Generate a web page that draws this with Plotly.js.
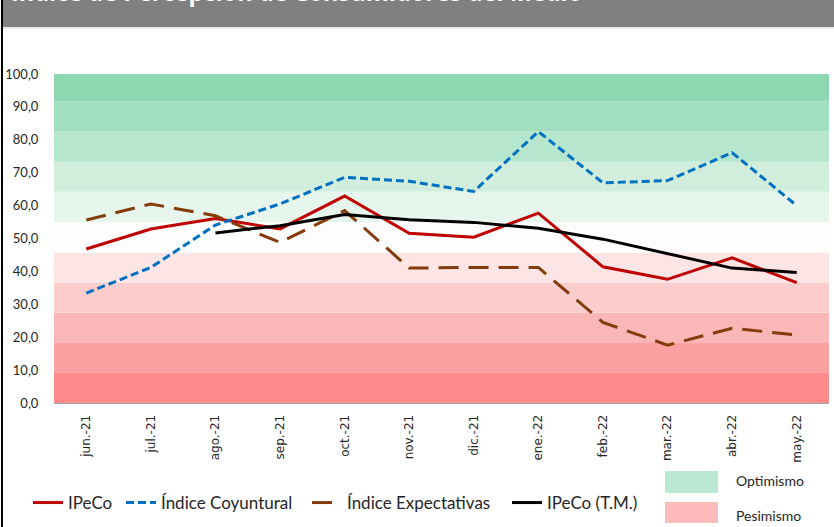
<!DOCTYPE html>
<html>
<head>
<meta charset="utf-8">
<script src="https://cdn.plot.ly/plotly-3.0.1.min.js"></script>
<style>
html,body{margin:0;padding:0;background:#fff;}
#chart{width:834px;height:527px;}
</style>
</head>
<body>
<div id="chart"></div>
<script>
// ---- data ----
var months = ["jun.-21","jul.-21","ago.-21","sep.-21","oct.-21","nov.-21","dic.-21","ene.-22","feb.-22","mar.-22","abr.-22","may.-22"];
var ipeco = [46.8, 52.9, 56.1, 52.9, 62.9, 51.6, 50.4, 57.7, 41.4, 37.6, 44.1, 36.6];
var coyuntural = [33.4, 41.2, 54.1, 60.5, 68.6, 67.4, 64.3, 82.5, 66.9, 67.6, 76.1, 60.0];
var expectativas = [55.6, 60.5, 56.9, 48.8, 58.5, 41.0, 41.2, 41.2, 24.5, 17.6, 22.7, 20.7];
var ipecoTM = [null, null, 51.7, 53.9, 57.3, 55.7, 54.9, 53.1, 49.8, 45.5, 41.0, 39.7];
var seriesNames = ["IPeCo", "Índice Coyuntural", "Índice Expectativas", "IPeCo (T.M.)"];
var yTicks = [0,10,20,30,40,50,60,70,80,90,100];
var bandEdges = [0, 9.1, 18.2, 27.4, 36.5, 45.7, 55.0, 64.2, 73.3, 82.5, 91.7, 100];
var bandColors = ["#FD8B8B","#FCA1A1","#FBB7B7","#FCCDCD","#FDE5E5","#FDFDFD","#E6F6ED","#D1EEDD","#B7E6CE","#A1DFC0","#8DD8B1"];
var titleText = "Índice de Percepción de Consumidores del Medio";
var keyLabels = ["Optimismo", "Pesimismo"];

// ---- geometry helpers (pixel -> paper) ----
var W = 834, H = 527, mL = 54, mR = 5, mT = 74, mB = 124;
var pw = W - mL - mR, ph = H - mT - mB;
function px(x){ return (x - mL) / pw; }
function py(y){ return (H - mB - y) / ph; }

var shapes = [];
for (var i = 0; i < bandColors.length; i++) {
  shapes.push({type:"rect", xref:"paper", yref:"y", x0:0, x1:1, y0:bandEdges[i], y1:bandEdges[i+1],
    fillcolor:bandColors[i], line:{width:0}, layer:"below"});
}
// title bar
shapes.push({type:"rect", xref:"paper", yref:"paper", x0:px(3), x1:px(836), y0:py(27), y1:py(-2),
  fillcolor:"#808080", line:{width:0}, layer:"below"});
shapes.push({type:"line", xref:"paper", yref:"paper", x0:px(3), x1:px(836), y0:py(28), y1:py(28),
  line:{color:"#D9D9D9", width:1}, layer:"below"});
// left frame line
shapes.push({type:"line", xref:"paper", yref:"paper", x0:px(2), x1:px(2), y0:py(530), y1:py(-2),
  line:{color:"#000000", width:2}, layer:"below"});
// optimism / pessimism keys
shapes.push({type:"rect", xref:"paper", yref:"paper", x0:px(665), x1:px(718), y0:py(493), y1:py(471),
  fillcolor:"#BBE8D2", line:{width:0}});
shapes.push({type:"rect", xref:"paper", yref:"paper", x0:px(665), x1:px(718), y0:py(523), y1:py(502),
  fillcolor:"#FDBBBB", line:{width:0}});

var annotations = [
  {text:titleText, xref:"paper", yref:"paper", x:px(9), y:py(10), xanchor:"left", yanchor:"bottom",
   showarrow:false, font:{family:"Open Sans", size:23.5, color:"#FFFFFF", weight:"bold"}},
  {text:keyLabels[0], xref:"paper", yref:"paper", x:px(734), y:py(480), xanchor:"left", yanchor:"middle",
   showarrow:false, font:{family:"Lato", size:14, color:"#262626"}},
  {text:keyLabels[1], xref:"paper", yref:"paper", x:px(734), y:py(515), xanchor:"left", yanchor:"middle",
   showarrow:false, font:{family:"Lato", size:14, color:"#262626"}}
];

var traces = [
  {x:months, y:ipeco, name:seriesNames[0], type:"scatter", mode:"lines", legend:"legend",
   line:{color:"#C00000", width:3}},
  {x:months, y:coyuntural, name:seriesNames[1], type:"scatter", mode:"lines", legend:"legend2",
   line:{color:"#0070C0", width:3, dash:"8px,4px"}},
  {x:months, y:expectativas, name:seriesNames[2], type:"scatter", mode:"lines", legend:"legend3",
   line:{color:"#843C0C", width:3, dash:"20px,10px"}},
  {x:months, y:ipecoTM, name:seriesNames[3], type:"scatter", mode:"lines", legend:"legend4",
   line:{color:"#000000", width:3}}
];

function legendAt(xPix){
  return {orientation:"h", xref:"paper", x:px(xPix), xanchor:"left", yref:"paper", y:py(503), yanchor:"middle",
    font:{family:"Lato", size:17, color:"#262626"}, bgcolor:"rgba(0,0,0,0)", itemwidth:30};
}

var layout = {
  width:W, height:H,
  margin:{l:mL, r:mR, t:mT, b:mB, pad:0, autoexpand:false},
  paper_bgcolor:"#FFFFFF", plot_bgcolor:"rgba(0,0,0,0)",
  separators:",.",
  showlegend:true,
  hovermode:false,
  legend:legendAt(28),
  legend2:legendAt(121),
  legend3:legendAt(307),
  legend4:legendAt(507),
  xaxis:{type:"category", range:[-0.5, 11.5], tickangle:-90, showgrid:false, zeroline:false,
    showline:true, linecolor:"#A6A6A6", linewidth:1, ticks:"outside", ticklen:6, tickcolor:"rgba(0,0,0,0)",
    tickfont:{family:"DejaVu Sans", size:12, color:"#262626"}, fixedrange:true},
  yaxis:{range:[0,100], tickvals:yTicks, tickformat:".1f", showgrid:false, zeroline:false, showline:false,
    ticks:"outside", ticklen:12, tickcolor:"rgba(0,0,0,0)",
    tickfont:{family:"Lato", size:13, color:"#262626"}, fixedrange:true},
  shapes:shapes,
  annotations:annotations
};

Plotly.newPlot("chart", traces, layout, {displayModeBar:false, staticPlot:true});
</script>
</body>
</html>
